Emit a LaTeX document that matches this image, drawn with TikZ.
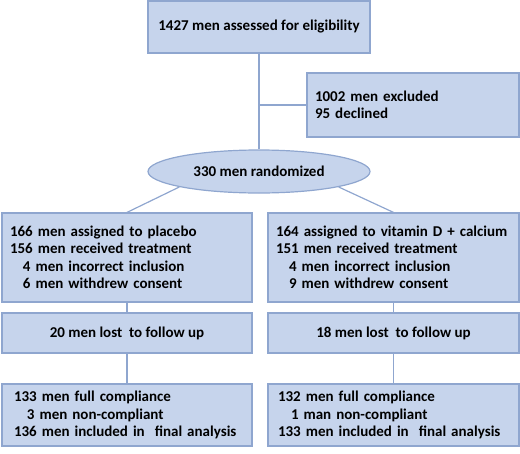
\documentclass[tikz,border=0pt]{standalone}
\usepackage{fontspec}
\setmainfont{Carlito}
\usetikzlibrary{shapes.geometric}
\definecolor{boxfill}{RGB}{198,212,236}
\definecolor{boxline}{RGB}{143,166,207}

\begin{document}
\begin{tikzpicture}[x=1pt,y=-1pt,
    box/.style={draw=boxline,fill=boxfill,line width=1.2pt,
      font=\fontsize{15}{17.5}\selectfont\bfseries,inner xsep=8pt},
    leftbox/.style={box,align=left,text width=#1},
    link/.style={draw=boxline,line width=1.2pt}]
  \useasboundingbox (0,0) rectangle (520,453);

  % Boxes
  \node[box,minimum width=222pt,minimum height=52pt] (assess) at (259,27)
    {1427 men assessed for eligibility};
  \node[leftbox=196pt,minimum width=212pt,minimum height=64pt] (excl) at (413,105)
    {1002 men excluded\\95 declined};
  \node[box,ellipse,minimum width=222pt,minimum height=43pt] (rand) at (259,171.5)
    {330 men randomized};

  \node[leftbox=234pt,minimum width=250pt,minimum height=89pt] (plc) at (127,257.5)
    {166 men assigned to placebo\\156 men received treatment\\
     \hspace*{13pt}4 men incorrect inclusion\\\hspace*{13pt}6 men withdrew consent};
  \node[leftbox=235pt,minimum width=251pt,minimum height=89pt] (vit) at (393.5,257.5)
    {164 assigned to vitamin D + calcium\\151 men received treatment\\
     \hspace*{13pt}4 men incorrect inclusion\\\hspace*{13pt}9 men withdrew consent};

  \node[box,minimum width=250pt,minimum height=40pt] (plclost) at (127,333)
    {20 men lost\ \ to follow up};
  \node[box,minimum width=251pt,minimum height=40pt] (vitlost) at (393.5,333)
    {18 men lost\ \ to follow up};

  \node[leftbox=226pt,inner xsep=12pt,minimum width=250pt,minimum height=62pt] (plcend) at (127,415)
    {133 men full compliance\\\hspace*{13pt}3 men non-compliant\\
     136 men included in\ \ final analysis};
  \node[leftbox=231pt,inner xsep=10pt,minimum width=251pt,minimum height=62pt] (vitend) at (393.5,415)
    {132 men full compliance\\\hspace*{13pt}1 man non-compliant\\
     133 men included in\ \ final analysis};

  % Connectors
  \draw[link] (assess.south) -- (rand.north);
  \draw[link] (assess.south |- excl.west) -- (excl.west);
  \draw[link] (rand.191.8) -- (plc.north);
  \draw[link] (rand.349.2) -- (vit.north);
  \draw[link] (plc.south) -- (plclost.north);
  \draw[link] (vit.south) -- (vitlost.north);
  \draw[link] (plclost.south) -- (plcend.north);
  \draw[link] (vitlost.south) -- (vitend.north);
\end{tikzpicture}
\end{document}
